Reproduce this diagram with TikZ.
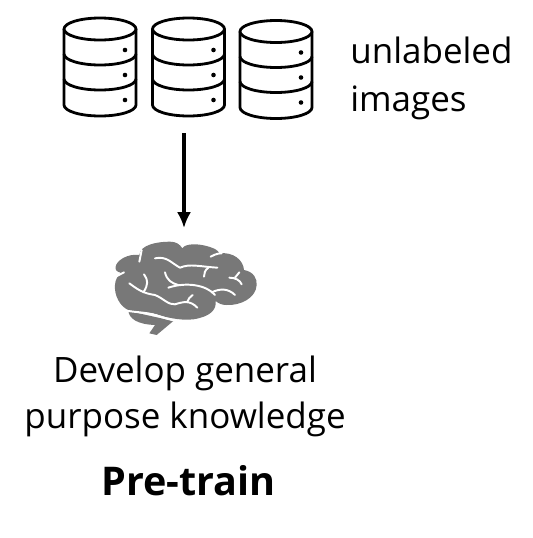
\documentclass[tikz,border=0pt]{standalone}
\usepackage{fontspec}
\setmainfont{Open Sans}
\usetikzlibrary{arrows.meta}
\tikzset{
  dbline/.style={draw=black,line width=1.6pt,fill=white},
  txt/.style={inner sep=0pt,anchor=base,font=\fontsize{19.9pt}{23pt}\selectfont},
  cut/.style={draw=white,line width=1.1pt,line cap=round},
  dbstack/.pic={
    \draw[dbline] (-36,0) -- (-36,76) arc[start angle=180,end angle=0,x radius=36,y radius=11] -- (36,0);
    \draw[dbline] (0,0) ellipse (36 and 11);
    \draw[dbline,fill=none] (-36,25) arc[start angle=180,end angle=0,x radius=36,y radius=11];
    \draw[dbline,fill=none] (-36,50) arc[start angle=180,end angle=0,x radius=36,y radius=11];
    \fill (25,21) circle (2.3);
    \fill (25,46) circle (2.3);
    \fill (25,71) circle (2.3);
  }
}
\begin{document}
\begin{tikzpicture}[x=0.02cm,y=-0.02cm]
\useasboundingbox (0,0) rectangle (532,538);

% Databases
\path (100,29) pic {dbstack};
\path (188.5,29) pic {dbstack};
\path (276,31.5) pic {dbstack};
\coordinate (dbs) at (184,133);

% Label
\node[txt,anchor=base west] (unlabeled) at (350,63) {unlabeled};
\node[txt,anchor=base west] (images) at (350,111) {images};

% Brain
\begin{scope}[shift={(100,235)},x=0.00667cm,y=-0.00667cm]
\fill[black!53] (85,228) .. controls (88,250) and (110,268) .. (165,270)
  -- (148,295) -- (170,300) -- (220,258) -- cycle;
\fill[black!53] (118,60) .. controls (120,30) and (170,20) .. (210,20)
  .. controls (228,20) and (240,28) .. (247,40)
  .. controls (255,25) and (300,22) .. (345,42)
  .. controls (352,46) and (356,50) .. (358,55)
  .. controls (400,50) and (430,75) .. (432,105)
  .. controls (460,110) and (472,130) .. (470,150)
  .. controls (468,190) and (420,212) .. (380,210)
  .. controls (365,210) and (355,205) .. (347,198)
  .. controls (350,225) and (330,245) .. (280,253)
  .. controls (240,258) and (190,245) .. (170,238)
  .. controls (140,230) and (110,232) .. (85,225)
  .. controls (60,215) and (42,180) .. (45,150)
  .. controls (45,135) and (55,120) .. (62,113)
  .. controls (50,110) and (45,105) .. (47,95)
  .. controls (50,75) and (85,55) .. (118,60) -- cycle;
% Folds
\draw[cut] (85,228) .. controls (110,232) and (140,232) .. (170,241) .. controls (190,248) and (205,253) .. (222,256);
\draw[cut] (125,45) -- (118,80);
\draw[cut] (47,125) -- (72,112);
\draw[cut] (165,70) .. controls (200,62) and (215,85) .. (240,98) .. controls (270,85) and (300,95) .. (352,98);
\draw[cut] (325,98) .. controls (315,105) and (312,115) .. (312,125);
\draw[cut] (332,65) .. controls (350,55) and (360,55) .. (365,55);
\draw[cut] (195,112) .. controls (200,135) and (215,145) .. (235,150);
\draw[cut] (205,158) .. controls (260,140) and (320,150) .. (345,180);
\draw[cut] (335,172) .. controls (360,160) and (385,160) .. (405,180);
\draw[cut] (388,128) .. controls (405,128) and (420,135) .. (425,148);
\draw[cut] (418,112) -- (405,128);
\draw[cut] (88,145) .. controls (115,165) and (130,175) .. (165,180) .. controls (190,190) and (205,210) .. (225,208) .. controls (250,200) and (270,195) .. (292,218);
\draw[cut] (132,118) .. controls (145,135) and (145,150) .. (130,172);
\draw[cut] (262,200) .. controls (265,192) and (270,185) .. (278,180);
\end{scope}
\coordinate (brain) at (184,228);

% Arrow
\draw[-{Latex[length=9pt,width=8pt]},line width=2pt] (dbs) -- (brain);

% Text
\node[txt] (develop) at (185,382) {Develop general};
\node[txt] (purpose) at (185,428) {purpose knowledge};
\node[txt,font=\fontsize{22.5pt}{26pt}\selectfont\bfseries] (pretrain) at (188.5,495) {Pre-train};

\end{tikzpicture}
\end{document}
